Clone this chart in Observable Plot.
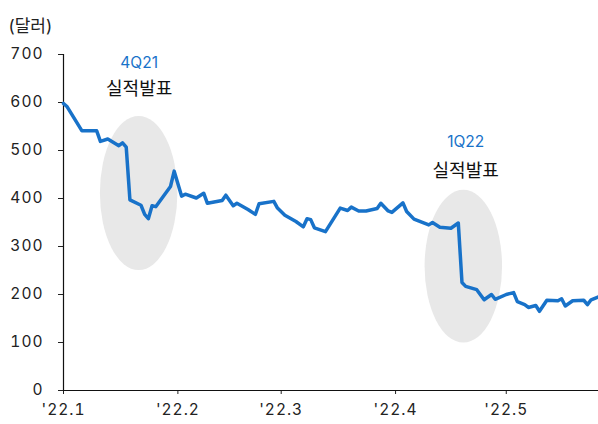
<!DOCTYPE html>
<html>
<head>
<meta charset="utf-8">
<script src="https://cdn.jsdelivr.net/npm/d3@7"></script>
<script src="https://cdn.jsdelivr.net/npm/@observablehq/plot@0.6"></script>
<style>
  html, body { margin: 0; padding: 0; background: #fff; }
  g[aria-label="y-axis tick label"] text,
  g[aria-label="x-axis tick label"] text,
  g[aria-label="quarter"] text { letter-spacing: 1px; }
</style>
</head>
<body>
<div id="chart"></div>
<script>
const dates = ["2022-01-01","2022-01-02","2022-01-04","2022-01-06","2022-01-10","2022-01-11","2022-01-13","2022-01-16","2022-01-17","2022-01-18","2022-01-19","2022-01-22","2022-01-23","2022-01-24","2022-01-25","2022-01-26","2022-01-30","2022-01-31","2022-02-02","2022-02-03","2022-02-06","2022-02-08","2022-02-09","2022-02-13","2022-02-14","2022-02-16","2022-02-17","2022-02-20","2022-02-22","2022-02-23","2022-02-27","2022-02-28","2022-03-02","2022-03-05","2022-03-07","2022-03-08","2022-03-09","2022-03-10","2022-03-13","2022-03-17","2022-03-19","2022-03-20","2022-03-22","2022-03-24","2022-03-27","2022-03-28","2022-03-30","2022-03-31","2022-04-03","2022-04-04","2022-04-06","2022-04-10","2022-04-11","2022-04-13","2022-04-16","2022-04-18","2022-04-19","2022-04-20","2022-04-23","2022-04-25","2022-04-27","2022-04-28","2022-05-01","2022-05-03","2022-05-04","2022-05-06","2022-05-07","2022-05-09","2022-05-10","2022-05-12","2022-05-15","2022-05-16","2022-05-17","2022-05-19","2022-05-22","2022-05-23","2022-05-24","2022-05-26"];
const prices = [598,591,566,541,541,519,524,510,516,507,397,386,367,358,385,383,425,457,405,409,401,411,390,396,407,385,390,377,367,389,394,380,365,352,341,358,356,339,331,380,375,382,374,374,379,390,374,371,391,373,357,345,350,340,338,349,225,217,210,189,200,190,200,204,185,179,173,177,165,188,187,191,176,187,188,179,189,195];

const yTicks = [0,100,200,300,400,500,600,700];
const xTicks = ["2022-01-01","2022-02-01","2022-03-01","2022-04-01","2022-05-01"];
const xTickLabels = ["'22.1","'22.2","'22.3","'22.4","'22.5"];
const xDomain = ["2022-01-01","2022-05-26"];

// highlighted earnings windows (date range x value range)
const ellipseStart = ["2022-01-11","2022-04-09"];
const ellipseEnd = ["2022-02-01","2022-04-30"];
const ellipseLow = [250,99];
const ellipseHigh = [571,417];

// annotations
const noteDates = ["2022-01-21T12:00Z","2022-01-21T12:00Z","2022-04-20","2022-04-20"];
const noteValues = [682,627,517,456];
const noteTexts = ["4Q21","실적발표","1Q22","실적발표"];
const noteKinds = ["q","k","q","k"];

const unitLabel = "(달러)";

const BLUE = "#1872c9";
const FONT = "Inter, 'Noto Sans CJK KR', sans-serif";

const series = dates.map((d, i) => ({date: new Date(d), price: prices[i]}));
const notes = noteTexts.map((t, i) => ({date: new Date(noteDates[i]), value: noteValues[i], text: t, kind: noteKinds[i]}));
const ellipses = ellipseStart.map((s, i) => ({x1: new Date(s), x2: new Date(ellipseEnd[i]), y1: ellipseLow[i], y2: ellipseHigh[i]}));
const tickDates = xTicks.map(d => new Date(d));

function ellipseMark(index, scales) {
  const g = document.createElementNS("http://www.w3.org/2000/svg", "g");
  for (const e of ellipses) {
    const ax = scales.x(e.x1), bx = scales.x(e.x2);
    const ay = scales.y(e.y1), by = scales.y(e.y2);
    const el = document.createElementNS("http://www.w3.org/2000/svg", "ellipse");
    el.setAttribute("cx", (ax + bx) / 2);
    el.setAttribute("cy", (ay + by) / 2);
    el.setAttribute("rx", Math.abs(bx - ax) / 2);
    el.setAttribute("ry", Math.abs(by - ay) / 2);
    el.setAttribute("fill", "#e8e8e8");
    g.appendChild(el);
  }
  return g;
}

const chart = Plot.plot({
  width: 598,
  height: 424,
  marginLeft: 63,
  marginRight: 0,
  marginTop: 54,
  marginBottom: 34,
  style: {fontFamily: FONT, fontSize: "15.5px", color: "#222", background: "#fff"},
  x: {type: "utc", domain: xDomain.map(d => new Date(d))},
  y: {domain: [0, 700]},
  marks: [
    ellipseMark,
    Plot.axisY({ticks: yTicks, tickSize: 5, tickPadding: 15, label: null, fontSize: 15.5, stroke: "#222"}),
    Plot.axisX({ticks: tickDates, tickSize: 4, tickPadding: 9, label: null, fontSize: 15.5, stroke: "#222",
      tickFormat: d => xTickLabels[tickDates.findIndex(t => +t === +d)]}),
    Plot.ruleY([0], {stroke: "#111", strokeWidth: 1.2}),
    Plot.ruleX([new Date(xDomain[0])], {y1: 0, y2: 700, stroke: "#111", strokeWidth: 1.2}),
    Plot.line(series, {x: "date", y: "price", stroke: BLUE, strokeWidth: 3.5, strokeLinejoin: "round", strokeLinecap: "round"}),
    Plot.text(notes.filter(n => n.kind === "q"), {x: "date", y: "value", text: "text", fill: BLUE, fontSize: 15.5, ariaLabel: "quarter"}),
    Plot.text(notes.filter(n => n.kind === "k"), {x: "date", y: "value", text: "text", fill: "#111", fontSize: 18}),
    Plot.text([unitLabel], {frameAnchor: "top-left", textAnchor: "start", dx: -55, dy: -35, fill: "#222", fontSize: 17})
  ]
});
document.getElementById("chart").appendChild(chart);
</script>
</body>
</html>
